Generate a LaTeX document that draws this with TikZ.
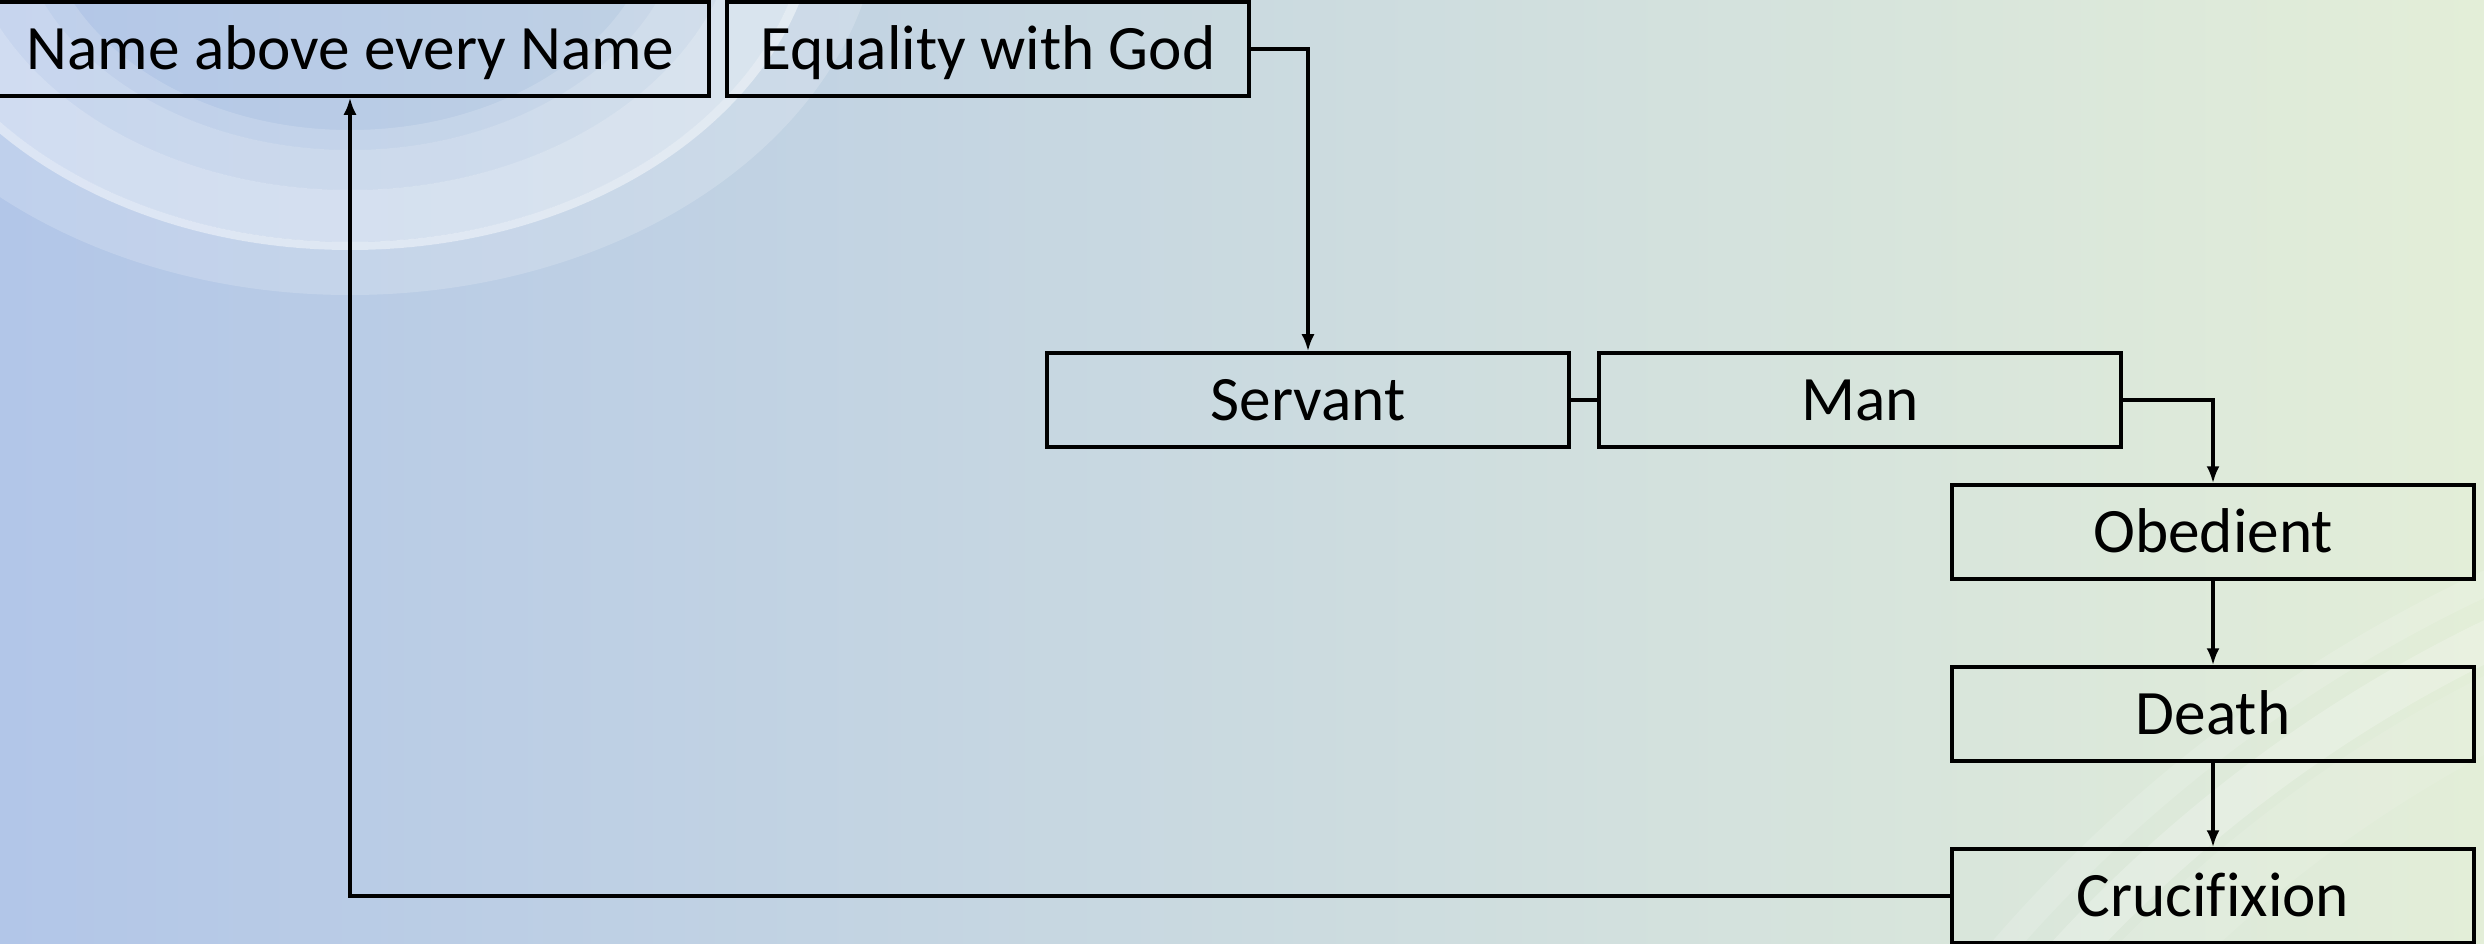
\documentclass[tikz,border=0pt]{standalone}
\usepackage{fontspec}
\setmainfont{Carlito}[Ligatures=NoCommon]
\usepackage{xcolor}
\usetikzlibrary{arrows.meta}
\definecolor{bgleft}{HTML}{B2C6E8}
\definecolor{bgmid}{HTML}{C6D8DC}
\definecolor{bgright}{HTML}{E3EED8}
\tikzset{
  stagebox/.style={draw=black, line width=1pt, minimum width=52.2mm, minimum height=9.4mm,
    inner sep=0pt, text height=11.6pt, text depth=0pt, font=\fontsize{18pt}{21pt}\selectfont},
  link/.style={draw=black, line width=0.9pt, -{Latex[length=1.7mm,width=1.3mm]}},
  swirl/.style={fill=white, even odd rule}
}

\begin{document}
\begin{tikzpicture}[x=0.1mm, y=-0.1mm]
\useasboundingbox (0,0) rectangle (2484,943);
\clip (0,0) rectangle (2484,943);
% background
\shade[left color=bgleft, middle color=bgmid, right color=bgright] (0,0) rectangle (2484,943);
% swirl top left
\fill[swirl, fill opacity=0.18] (350,-100) ellipse [x radius=531, y radius=395] (350,-100) ellipse [x radius=470, y radius=350];
\fill[swirl, fill opacity=0.55] (350,-100) ellipse [x radius=470, y radius=350] (350,-100) ellipse [x radius=460, y radius=342];
\fill[swirl, fill opacity=0.40] (350,-100) ellipse [x radius=460, y radius=342] (350,-100) ellipse [x radius=390, y radius=290];
\fill[swirl, fill opacity=0.28] (350,-100) ellipse [x radius=390, y radius=290] (350,-100) ellipse [x radius=336, y radius=250];
\fill[swirl, fill opacity=0.16] (350,-100) ellipse [x radius=336, y radius=250] (350,-100) ellipse [x radius=309, y radius=230];
% swirl bottom right
\fill[swirl, fill opacity=0.10] (3100,1900) circle (1370) (3100,1900) circle (1300);
\fill[swirl, fill opacity=0.22] (3100,1900) circle (1420) (3100,1900) circle (1380);
\fill[swirl, fill opacity=0.14] (3100,1900) circle (1465) (3100,1900) circle (1440);

% boxes
\node[stagebox, minimum width=71.8mm] (name) at (350,49) {Name above every Name};
\node[stagebox] (equality) at (988,49) {Equality with God};
\node[stagebox] (servant) at (1308,400) {Servant};
\node[stagebox] (man) at (1860,400) {Man};
\node[stagebox] (obedient) at (2213,532) {Obedient};
\node[stagebox] (death) at (2213,714) {Death};
\node[stagebox] (crucifixion) at (2213,896) {Crucifixion};

% connectors
\draw[link] (equality.east) -| (servant.north);
\draw[line width=0.9pt] (servant.east) -- (man.west);
\draw[link] (man.east) -| (obedient.north);
\draw[link] (obedient.south) -- (death.north);
\draw[link] (death.south) -- (crucifixion.north);
\draw[link] (crucifixion.west) -| (name.south);
\end{tikzpicture}
\end{document}
